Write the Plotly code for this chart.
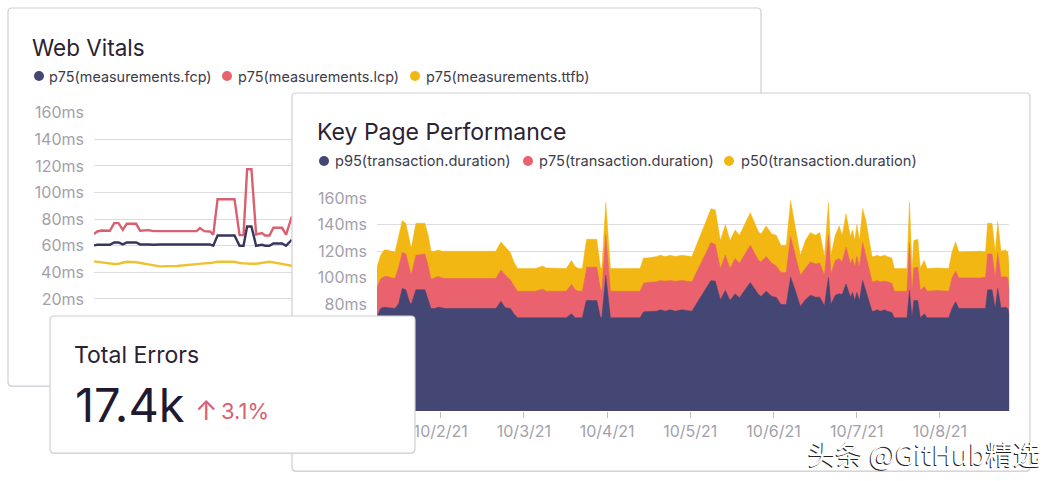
import pandas as pd
import plotly.graph_objects as go

W, H = 1056, 481

# ---------- Key Page Performance (top edge of each coloured band, ms) ----------
perf_pos = [0,1,2,3,4,5,6,7,8,9,9.5,10.8,13.3,14.2,15,16,17,18,19,33,34.4,35.6,37,38,39,44,45,46,47,52.5,54,55,56,57,58,58.2,61,62,62.4,63.5,64.8,73,74,75,77.7,78.6,80,81.4,82.8,84.6,87.4,
            92.7,93.9,95.3,96.7,98,99.4,100.6,103.6,105.9,106.6,108,109.6,110.8,112.1,113.6,114.8,116.1,117.5,118.9,120.3,121.7,122.9,124.2,125.3,126,127.2,128.3,129.1,130.2,131.4,132,132.6,133.2,133.9,134.8,135.7,137.4,138,138.8,139.7,140.9,141.6,142.9,143.6,147.1,147.8,148.5,149,150.1,150.8,151.9,152.7,155.5,158.7,159.6,160.6,161.5,167.5,168.9,169.5,170.7,171.6,172.3,173.2,174.4,175.1,175.5]
p50_top = [108,117,121,121,120,119.5,131,143,141,129,122,141,141,132,120,120,121,120,120,120,127,123,119,112,107,107,108,109,107.5,107,113,108.5,107,107,126,129,129,108,107,156.5,107,107,115,115,116,117,116,117,116,117,116,
           152,151,128,140,128,136,132,149,134.5,133,139,133,132,124.5,124.5,158,138,117,128,134,132,134,116,156.5,117,132,139,132,148,131,136,128,140,128,152,143,116,116,117,116,117,116,115,107,107,157,107,128,129,107.5,113,107,107.5,107,119.5,127,119.5,120,119.5,141,141,119.5,142,120,121,119.5,107]
p75_top = [93,99,101,101,100,99.5,108,119,118,108,102,117,118,109,99,100,101,100,99.5,99.5,106,102,98.5,94,90,90,90.5,91.5,90,90,95,91,90,90,104,108,108,92,90,132,90,90,96,96.5,97,98,97.5,98,97.5,98,97,
           126.5,125,107,117,107,114.5,111,124.5,113,112,116,111,109,104,104,131,116,102,107,112,110.5,111,102,132,103,113,114.5,112,123,110.5,114.5,108,116,108,126.5,117,97.5,97,98,97,97.5,97,96,90,90,126,90,107.5,108,90.5,93.5,90,90.5,90,100,105,100,100,100.5,118,118,100,119,100.5,101,100,89]
p95_top = [70.5,77,78,77.5,77,77,80.5,92,91,82,80,91,91,83,77,77,78,77.5,77,77,82.5,77.5,77,73,70,70,70,70.5,70,70,73,70,70,70,82,83,83,70.5,70,102,70,70,74.5,74.5,75,76,75,76,75,76,75,
           98,97.5,83.5,90.5,83,88,85,96.5,87.5,86,90,86,85.5,80,80,100.5,90.5,78.5,83.5,87,85.5,85.5,79,100.5,80,87,88,87.5,95.5,85.5,89,83,89,83,98,90.5,75,75,76,75,76,75,74,70,70,90.5,70,83,83,70,73,70,70,70,77,82,77,77,77,91,91,77,92,77.5,78,77,72]
perf_names = ["p95(transaction.duration)", "p75(transaction.duration)", "p50(transaction.duration)"]

# ---------- Web Vitals (ms) ----------
vitals_pos = [0,0.9,2.1,4.4,5.6,6.8,8,9.1,11.7,12.8,15.1,16.5,18.3,23,28.5,29.4,30.6,32.2,33.1,34.3,39,40.4,41.5,42.5,43.7,45,46.6,47.5,48.7,49.8,52.2,53.3,54.9]
lcp = [68.75,70.75,71.5,71.25,77,77,72,76.5,76.5,71.25,71.75,71,71,71,71,73.25,71,70.75,68.25,95,95,68,68,117.5,117.5,68.5,69.5,67.75,67.75,73.5,73.5,68.25,82]
fcp = [60.25,60.75,60.75,60.75,62.5,62.5,61,62.5,62.5,61,61,60.75,61,61,61,61.5,61,61,60,67.75,67.75,60,60,74.5,74.5,60,60.75,60,60,61.75,61.75,60,64.5]
ttfb = [48.25,47.9,47.5,46.25,46.3,46.5,47,48,47.6,47,46,45.2,44.5,44.75,46.5,46.8,46.8,47,47.25,48,48,47,46.8,46.5,46.5,46.5,47,47.5,48,47.5,46.5,46,45]
vitals_names = ["p75(measurements.fcp)", "p75(measurements.lcp)", "p75(measurements.ttfb)"]

vitals_ticks = [20, 40, 60, 80, 100, 120, 140, 160]
vitals_labels = ["20ms", "40ms", "60ms", "80ms", "100ms", "120ms", "140ms", "160ms"]
perf_ticks = [80, 100, 120, 140, 160]
perf_labels = ["80ms", "100ms", "120ms", "140ms", "160ms"]

assert len(perf_pos) == len(p50_top) == len(p75_top) == len(p95_top)
assert len(vitals_pos) == len(lcp) == len(fcp) == len(ttfb)

NAVY, PINK, YELLOW = "#444674", "#e9626e", "#f2b712"
GRID, TICKTXT, INK = "#dddbe2", "#a3a0aa", "#2b2233"
FONT = "Inter"

# pixel geometry
X_PER_DAY = 83.2
TICK_OCT2 = 440.7
OCT2 = pd.Timestamp("2021-10-02")
def px_to_date(px):
    return OCT2 + pd.Timedelta(days=(px - TICK_OCT2) / X_PER_DAY)
def pos_to_dates(pos, px0):
    return [px_to_date(px0 + p * 3.6028) for p in pos]
def xdom(a, b): return [a / W, b / W]
def ydom(top, bot): return [1 - bot / H, 1 - top / H]

fig = go.Figure()

# subplot 1: back chart
for name, vals, col in [(vitals_names[2], ttfb, "#eec22e"), (vitals_names[1], lcp, "#d9606f"), (vitals_names[0], fcp, "#36355a")]:
    fig.add_trace(go.Scatter(x=pos_to_dates(vitals_pos, 94), y=vals, name=name, mode="lines",
                             line=dict(color=col, width=2.4), xaxis="x", yaxis="y", showlegend=False))
# subplot 2: carrier of front card
fig.add_trace(go.Scatter(x=[None], y=[None], xaxis="x2", yaxis="y2", showlegend=False, hoverinfo="skip"))
# subplot 3: front chart
for name, vals, col in [(perf_names[2], p50_top, YELLOW), (perf_names[1], p75_top, PINK), (perf_names[0], p95_top, NAVY)]:
    fig.add_trace(go.Scatter(x=pos_to_dates(perf_pos, 377), y=vals, name=name, mode="lines", fill="tozeroy",
                             fillcolor=col, line=dict(color=col, width=0.5), xaxis="x3", yaxis="y3", showlegend=False))
# subplot 4: carrier of KPI card
fig.add_trace(go.Scatter(x=[None], y=[None], xaxis="x4", yaxis="y4", showlegend=False, hoverinfo="skip"))

def ms_axis(top, bot, ticks, labels):
    return dict(domain=ydom(top, bot), range=[0, 160], tickmode="array", tickvals=ticks, ticktext=labels, showgrid=True,
                gridcolor=GRID, gridwidth=1, zeroline=False, showline=False, ticks="", ticklabelstandoff=9, automargin=False,
                tickfont=dict(family=FONT, size=16, color=TICKTXT))
def date_axis(a, b, anchor, labels=True):
    return dict(domain=xdom(a, b), type="date", range=[px_to_date(a), px_to_date(b)], tick0="2021-10-02", dtick=86400000,
                tickformat="%-m/%-d/%y", showgrid=False, zeroline=False, showline=False, ticks="outside" if labels else "", ticklen=6, automargin=False,
                showticklabels=labels, tickcolor="#bdbac4", tickfont=dict(family=FONT, size=16, color=TICKTXT), anchor=anchor)
def carrier_x(a, b):
    return dict(domain=xdom(a - 3, b + 3), range=[a - 3, b + 3], visible=False, fixedrange=True, automargin=False)
def carrier_y(top, bot):
    return dict(domain=ydom(top - 3, bot + 3), range=[bot + 3, top - 3], visible=False, fixedrange=True, automargin=False)

FRONT = (292, 93, 1030, 471)
KPI = (50, 316, 415, 453)
BACK = (8, 8, 761, 386)

fig.update_layout(
    template="none", width=W, height=H, margin=dict(l=0, r=0, t=0, b=0, pad=0), paper_bgcolor="white", plot_bgcolor="rgba(0,0,0,0)",
    showlegend=False, font=dict(family=FONT),
    xaxis=date_axis(94, 740, "y", labels=False), yaxis=dict(ms_axis(112.7, 325.6, vitals_ticks, vitals_labels), anchor="x"),
    xaxis2=dict(carrier_x(FRONT[0], FRONT[2]), anchor="y2"), yaxis2=dict(carrier_y(FRONT[1], FRONT[3]), anchor="x2"),
    xaxis3=date_axis(377, 1009.3, "y3"), yaxis3=dict(ms_axis(198, 411, perf_ticks, perf_labels), anchor="x3"),
    xaxis4=dict(carrier_x(KPI[0], KPI[2]), anchor="y4"), yaxis4=dict(carrier_y(KPI[1], KPI[3]), anchor="x4"),
)

def round_path(x0, y0, x1, y1, r=4):
    return (f"M{x0+r},{y0} L{x1-r},{y0} Q{x1},{y0} {x1},{y0+r} L{x1},{y1-r} Q{x1},{y1} {x1-r},{y1} "
            f"L{x0+r},{y1} Q{x0},{y1} {x0},{y1-r} L{x0},{y0+r} Q{x0},{y0} {x0+r},{y0} Z")
def paper_round_path(x0, y0, x1, y1, r=4):
    fx = lambda v: v / W
    fy = lambda v: 1 - v / H
    pts = [("M", x0 + r, y0), ("L", x1 - r, y0), ("Q", x1, y0, x1, y0 + r), ("L", x1, y1 - r), ("Q", x1, y1, x1 - r, y1),
           ("L", x0 + r, y1), ("Q", x0, y1, x0, y1 - r), ("L", x0, y0 + r), ("Q", x0, y0, x0 + r, y0)]
    out = []
    for p in pts:
        c = p[1:]
        out.append(p[0] + " ".join(f"{fx(c[i]):.5f},{fy(c[i+1]):.5f}" for i in range(0, len(c), 2)))
    return " ".join(out) + " Z"

shapes = []
def card(box, xref, yref):
    x0, y0, x1, y1 = box
    if xref == "paper":
        shapes.append(dict(type="path", xref="paper", yref="paper", path=paper_round_path(x0, y0 + 1, x1, y1 + 1),
                           fillcolor="#dcdbe0", line=dict(width=0), layer="below"))
        shapes.append(dict(type="path", xref="paper", yref="paper", path=paper_round_path(x0, y0, x1, y1),
                           fillcolor="white", line=dict(color="#cfcdd4", width=1.2), layer="below"))
        return
    shapes.append(dict(type="path", xref=xref, yref=yref, path=round_path(x0, y0 + 1, x1, y1 + 1),
                       fillcolor="#dcdbe0", line=dict(width=0), layer="below"))
    shapes.append(dict(type="path", xref=xref, yref=yref, path=round_path(x0, y0, x1, y1),
                       fillcolor="white", line=dict(color="#cfcdd4", width=1.2), layer="below"))

card(BACK, "paper", "paper")
card(FRONT, "x2", "y2")
card(KPI, "x4", "y4")

def dot(cx, cy, col, r=5):
    shapes.append(dict(type="circle", xref="paper", yref="paper", layer="above",
                       x0=(cx - r) / W, x1=(cx + r) / W, y0=1 - (cy + r) / H, y1=1 - (cy - r) / H,
                       fillcolor=col, line=dict(width=0)))

annots = []
def label(px, py, text, size, color=INK, anchor="left", **font_extra):
    annots.append(dict(x=px / W, y=1 - py / H, xref="paper", yref="paper", text=text, showarrow=False,
                       xanchor=anchor, yanchor="middle", borderpad=0,
                       font=dict(family=font_extra.pop("family", FONT), size=size, color=color, **font_extra)))

label(31, 47, "Web Vitals", 22.5)
for cx, tx, name, col in [(39, 48, vitals_names[0], NAVY), (227, 237, vitals_names[1], PINK), (415, 425, vitals_names[2], YELLOW)]:
    dot(cx, 76, col)
    label(tx, 76, name, 14.4, "#3e3c4a")

label(316, 132, "Key Page Performance", 23)
for cx, tx, name, col in [(324, 334, perf_names[0], NAVY), (528, 538, perf_names[1], PINK), (729, 740, perf_names[2], YELLOW)]:
    dot(cx, 161, col)
    label(tx, 161, name, 14.6, "#3e3c4a")

label(73, 355, "Total Errors", 23)
label(74, 404, "17.4k", 47, "#1f1a30")
label(194, 410, "↑", 27, "#d9606e")
label(220, 411, "3.1%", 22, "#d9606e")
label(807, 453, "头条 @GitHub精选", 27.5, "#ffffff", family="Noto Sans CJK SC", shadow="-1px 1px 0px #222")

fig.update_layout(shapes=shapes, annotations=annots)
fig.write_html("out.html", config=dict(displayModeBar=False),
               post_script="document.body.style.margin='0';document.body.style.overflow='hidden';")
